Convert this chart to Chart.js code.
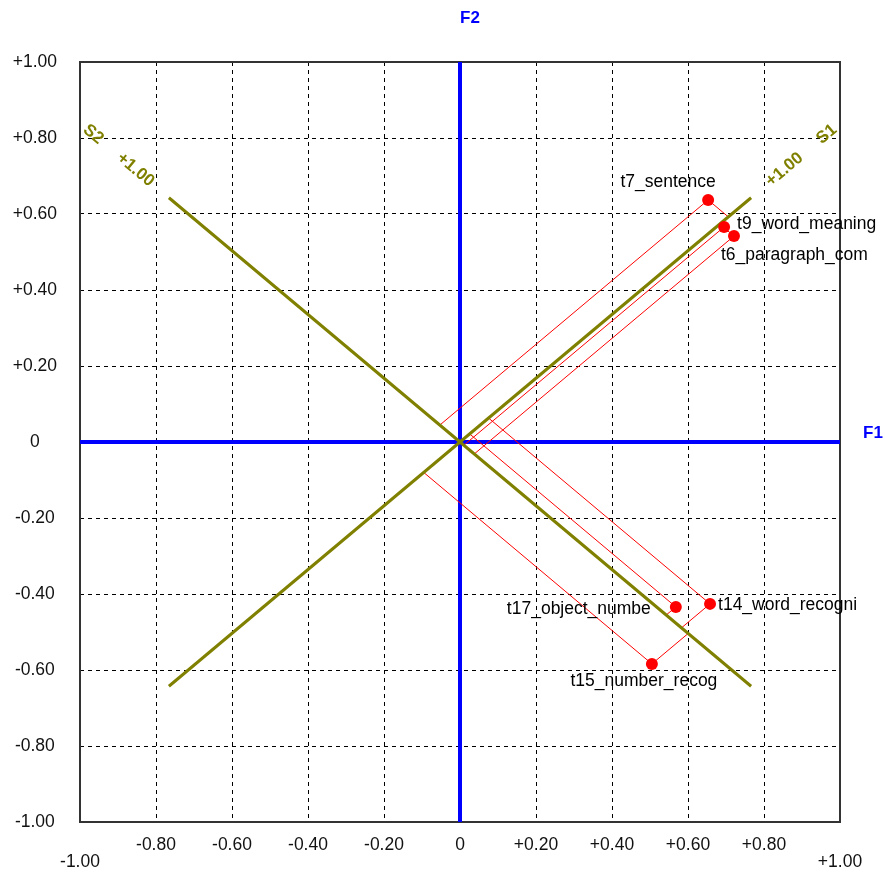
<!DOCTYPE html>
<html>
<head>
<meta charset="utf-8">
<script src="https://cdn.jsdelivr.net/npm/chart.js@4/dist/chart.umd.min.js"></script>
<style>
  html, body { margin: 0; padding: 0; background: #ffffff; }
  #wrap { width: 885px; height: 873px; }
</style>
</head>
<body>
<div id="wrap"><canvas id="plot" width="885" height="873"></canvas></div>
<script>
// Variables and their loadings on the orthogonal factors F1 / F2
const variables  = ['t7_sentence', 't9_word_meaning', 't6_paragraph_com', 't14_word_recogni', 't17_object_numbe', 't15_number_recog'];
const f1Loadings = [0.653, 0.695, 0.721, 0.658, 0.568, 0.505];
const f2Loadings = [0.637, 0.566, 0.542, -0.426, -0.434, -0.584];

// Oblique factor axes, given as their direction in degrees from F1
const obliqueNames  = ['S1', 'S2'];
const obliqueAngles = [40, 140];

// Axis ticks
const tickValues = [-1, -0.8, -0.6, -0.4, -0.2, 0, 0.2, 0.4, 0.6, 0.8, 1];
const tickLabels = ['-1.00', '-0.80', '-0.60', '-0.40', '-0.20', '0', '+0.20', '+0.40', '+0.60', '+0.80', '+1.00'];

// Where each variable name sits next to its marker (pixels)
const labelPlacement = {
  't7_sentence':      { dx: -40, dy: -18, align: 'center' },
  't9_word_meaning':  { dx: 13,  dy: -3,  align: 'left' },
  't6_paragraph_com': { dx: -13, dy: 19,  align: 'left' },
  't14_word_recogni': { dx: 8,   dy: 1,   align: 'left' },
  't17_object_numbe': { dx: -25, dy: 2,   align: 'right' },
  't15_number_recog': { dx: -8,  dy: 17,  align: 'center' }
};

const FONT = "'Liberation Sans', Arial, sans-serif";
const OLIVE = '#808000';
const BLUE = '#0000ff';
const RED = '#ff0000';

const rad = d => d * Math.PI / 180;
const u1 = [Math.cos(rad(obliqueAngles[0])), Math.sin(rad(obliqueAngles[0]))];
const u2 = [Math.cos(rad(obliqueAngles[1])), Math.sin(rad(obliqueAngles[1]))];

// Oblique coordinates: P = a*u1 + b*u2; the parallelogram corners sit on S1 and S2
function projections(x, y) {
  const det = u1[0] * u2[1] - u2[0] * u1[1];
  const a = (x * u2[1] - u2[0] * y) / det;
  const b = (u1[0] * y - x * u1[1]) / det;
  return { onS1: { x: a * u1[0], y: a * u1[1] }, onS2: { x: b * u2[0], y: b * u2[1] } };
}

const datasets = [];

// Variable markers
datasets.push({
  data: variables.map((v, i) => ({ x: f1Loadings[i], y: f2Loadings[i] })),
  pointRadius: 6, pointHoverRadius: 6,
  pointBackgroundColor: RED, pointBorderColor: RED, pointBorderWidth: 0,
  showLine: false, order: 0
});

// Oblique axes S1 and S2, length 1 each way from the origin
obliqueAngles.forEach(deg => {
  const c = Math.cos(rad(deg)), s = Math.sin(rad(deg));
  datasets.push({
    data: [{ x: -c, y: -s }, { x: c, y: s }],
    showLine: true, borderColor: OLIVE, borderWidth: 3, pointRadius: 0, order: 1
  });
});

// Projection lines from each variable onto S1 and S2
variables.forEach((v, i) => {
  const x = f1Loadings[i], y = f2Loadings[i];
  const p = projections(x, y);
  datasets.push({
    data: [p.onS2, { x, y }, p.onS1],
    showLine: true, borderColor: RED, borderWidth: 1, pointRadius: 0, order: 2
  });
});

// F1 and F2 reference axes
datasets.push({
  data: [{ x: -1, y: 0 }, { x: 1, y: 0 }],
  showLine: true, borderColor: BLUE, borderWidth: 4, pointRadius: 0, order: 3
});
datasets.push({
  data: [{ x: 0, y: -1 }, { x: 0, y: 1 }],
  showLine: true, borderColor: BLUE, borderWidth: 4, pointRadius: 0, order: 3
});

const overlay = {
  id: 'overlay',
  beforeDatasetsDraw(chart) {
    const { ctx, chartArea: a } = chart;
    ctx.save();
    ctx.strokeStyle = '#333333';
    ctx.lineWidth = 2;
    ctx.setLineDash([]);
    ctx.strokeRect(a.left, a.top, a.right - a.left, a.bottom - a.top);
    ctx.restore();
  },
  afterDatasetsDraw(chart) {
    const { ctx, scales: { x: sx, y: sy } } = chart;
    ctx.save();

    // Variable names
    ctx.font = '17.5px ' + FONT;
    ctx.fillStyle = '#000000';
    ctx.textBaseline = 'middle';
    variables.forEach((v, i) => {
      const px = sx.getPixelForValue(f1Loadings[i]);
      const py = sy.getPixelForValue(f2Loadings[i]);
      const pl = labelPlacement[v];
      ctx.textAlign = pl.align;
      ctx.fillText(v, px + pl.dx, py + pl.dy);
    });

    // Factor axis names
    ctx.font = 'bold 17px ' + FONT;
    ctx.fillStyle = BLUE;
    ctx.textAlign = 'left';
    ctx.fillText('F1', sx.getPixelForValue(1) + 23, sy.getPixelForValue(0) - 9);
    ctx.fillText('F2', sx.getPixelForValue(0), 18);

    // Oblique axis names and their +1.00 marks, written along each axis
    ctx.fillStyle = OLIVE;
    ctx.textAlign = 'center';
    obliqueAngles.forEach((deg, k) => {
      const c = Math.cos(rad(deg)), s = Math.sin(rad(deg));
      let rot = deg > 90 ? deg - 180 : deg;
      [[1.26, obliqueNames[k]], [1.115, '+1.00']].forEach(([r, txt]) => {
        ctx.save();
        ctx.translate(sx.getPixelForValue(r * c), sy.getPixelForValue(r * s));
        ctx.rotate(-rad(rot));
        ctx.font = 'bold 17px ' + FONT;
        ctx.fillText(txt, 0, 0);
        ctx.restore();
      });
    });
    ctx.restore();
  }
};

const setTicks = scale => { scale.ticks = tickValues.map(v => ({ value: v })); };
const labelFor = v => tickLabels[tickValues.findIndex(t => Math.abs(t - v) < 1e-9)];

new Chart(document.getElementById('plot'), {
  type: 'scatter',
  data: { datasets },
  options: {
    responsive: false,
    animation: false,
    devicePixelRatio: 1,
    events: [],
    layout: { padding: { top: 62, right: 45, left: 0, bottom: 0 } },
    plugins: { legend: { display: false }, tooltip: { enabled: false }, title: { display: false } },
    scales: {
      x: {
        type: 'linear', min: -1, max: 1,
        afterBuildTicks: setTicks,
        afterFit: s => { s.height = 51; },
        grid: { color: '#000000', lineWidth: 1, drawTicks: false },
        border: { display: false, dash: [4, 4] },
        ticks: {
          autoSkip: false, maxRotation: 0, padding: 14, color: '#111111',
          font: { family: FONT, size: 17.5, lineHeight: 1.0 },
          callback: v => (Math.abs(Math.abs(v) - 1) < 1e-9 ? ['', labelFor(v)] : labelFor(v))
        }
      },
      y: {
        type: 'linear', min: -1, max: 1,
        afterBuildTicks: setTicks,
        afterFit: s => { s.width = 80; },
        grid: { color: '#000000', lineWidth: 1, drawTicks: false },
        border: { display: false, dash: [4, 4] },
        ticks: {
          autoSkip: false, padding: 23, crossAlign: 'center', color: '#111111',
          font: { family: FONT, size: 17.5, lineHeight: 1.0 },
          callback: v => labelFor(v)
        }
      }
    }
  },
  plugins: [overlay]
});
</script>
</body>
</html>
